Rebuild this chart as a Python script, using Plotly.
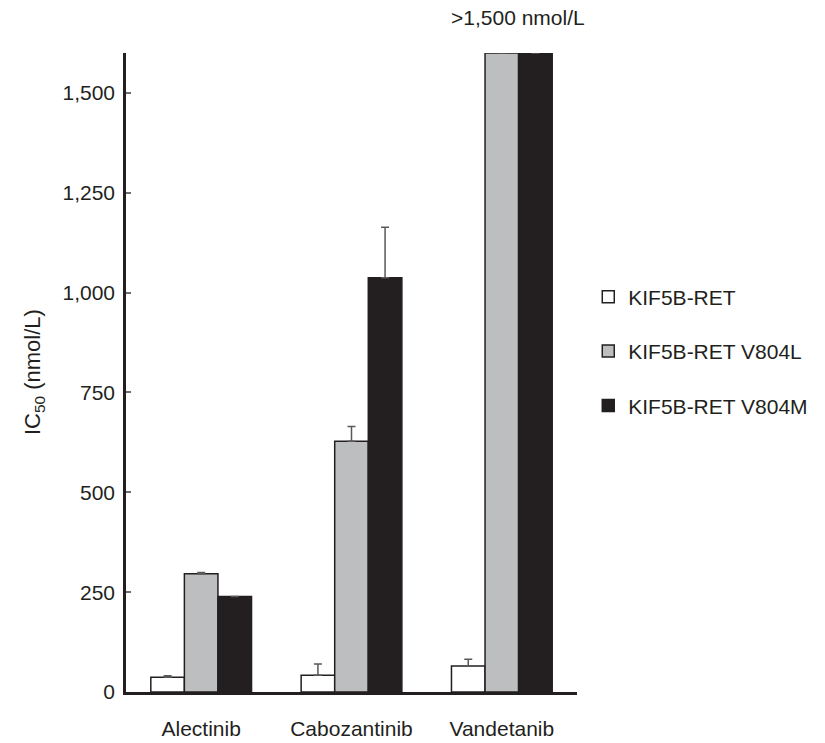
import plotly.graph_objects as go

# Drugs on the x axis
drugs = ["Alectinib", "Cabozantinib", "Vandetanib"]

# IC50 values (nmol/L) per construct; Vandetanib mutants exceed the axis (>1,500)
ic50_wt = [37, 42, 65]
ic50_v804l = [296, 628, 1600]
ic50_v804m = [239, 1037, 1600]

# Upper error bars (SD)
err_wt = [4, 28, 17]
err_v804l = [3, 37, 0]
err_v804m = [0, 127, 0]

series_names = ["KIF5B-RET", "KIF5B-RET V804L", "KIF5B-RET V804M"]
fills = ["#ffffff", "#bcbec0", "#231f20"]
edge = "#231f20"
ink = "#231f20"

fig = go.Figure()
for name, vals, errs, fill in zip(series_names,
                                   [ic50_wt, ic50_v804l, ic50_v804m],
                                   [err_wt, err_v804l, err_v804m],
                                   fills):
    fig.add_trace(go.Bar(
        x=drugs, y=vals, name=name, legendgroup=name,
        marker=dict(color=fill, line=dict(color=edge, width=1.5)),
        error_y=dict(type="data", symmetric=False, array=errs,
                     arrayminus=[0] * len(errs), color="#58595b",
                     thickness=1.5, width=4),
        cliponaxis=True,
    ))

fig.update_layout(
    width=825, height=743,
    margin=dict(l=126, r=244, t=53, b=51),
    paper_bgcolor="white", plot_bgcolor="white",
    barmode="group", bargap=0.33, bargroupgap=0,
    font=dict(family="Liberation Sans, Arial, sans-serif", size=21, color=ink),
    showlegend=True,
    legend=dict(x=1.025, y=0.65, xanchor="left", yanchor="top",
                font=dict(size=21, color=ink), traceorder="grouped",
                tracegroupgap=24, itemwidth=30, bgcolor="rgba(0,0,0,0)"),
    xaxis=dict(showline=True, linecolor=ink, linewidth=2.5, ticks="",
               tickfont=dict(size=21), ticklabelstandoff=16, automargin=False,
               showgrid=False, zeroline=False),
    yaxis=dict(range=[0, 1600], tickvals=[0, 250, 500, 750, 1000, 1250, 1500],
               ticktext=["0", "250", "500", "750", "1,000", "1,250", "1,500"],
               showline=True, linecolor=ink, linewidth=2.5,
               ticks="inside", ticklen=5, tickcolor="#6d6e71", tickwidth=1.5,
               tickfont=dict(size=21), ticklabelstandoff=4, automargin=False,
               showgrid=False, zeroline=False),
    annotations=[
        dict(text="IC<sub>50</sub> (nmol/L)", xref="paper", yref="paper",
             x=-0.205, y=0.5, textangle=-90, showarrow=False,
             font=dict(size=22, color=ink), xanchor="center", yanchor="middle"),
        dict(text=">1,500 nmol/L", xref="paper", yref="paper",
             x=(521 - 126) / 455, y=1.0, yshift=22, yanchor="bottom",
             xanchor="center", showarrow=False, font=dict(size=21, color=ink)),
    ],
)

fig.write_html("out.html")
